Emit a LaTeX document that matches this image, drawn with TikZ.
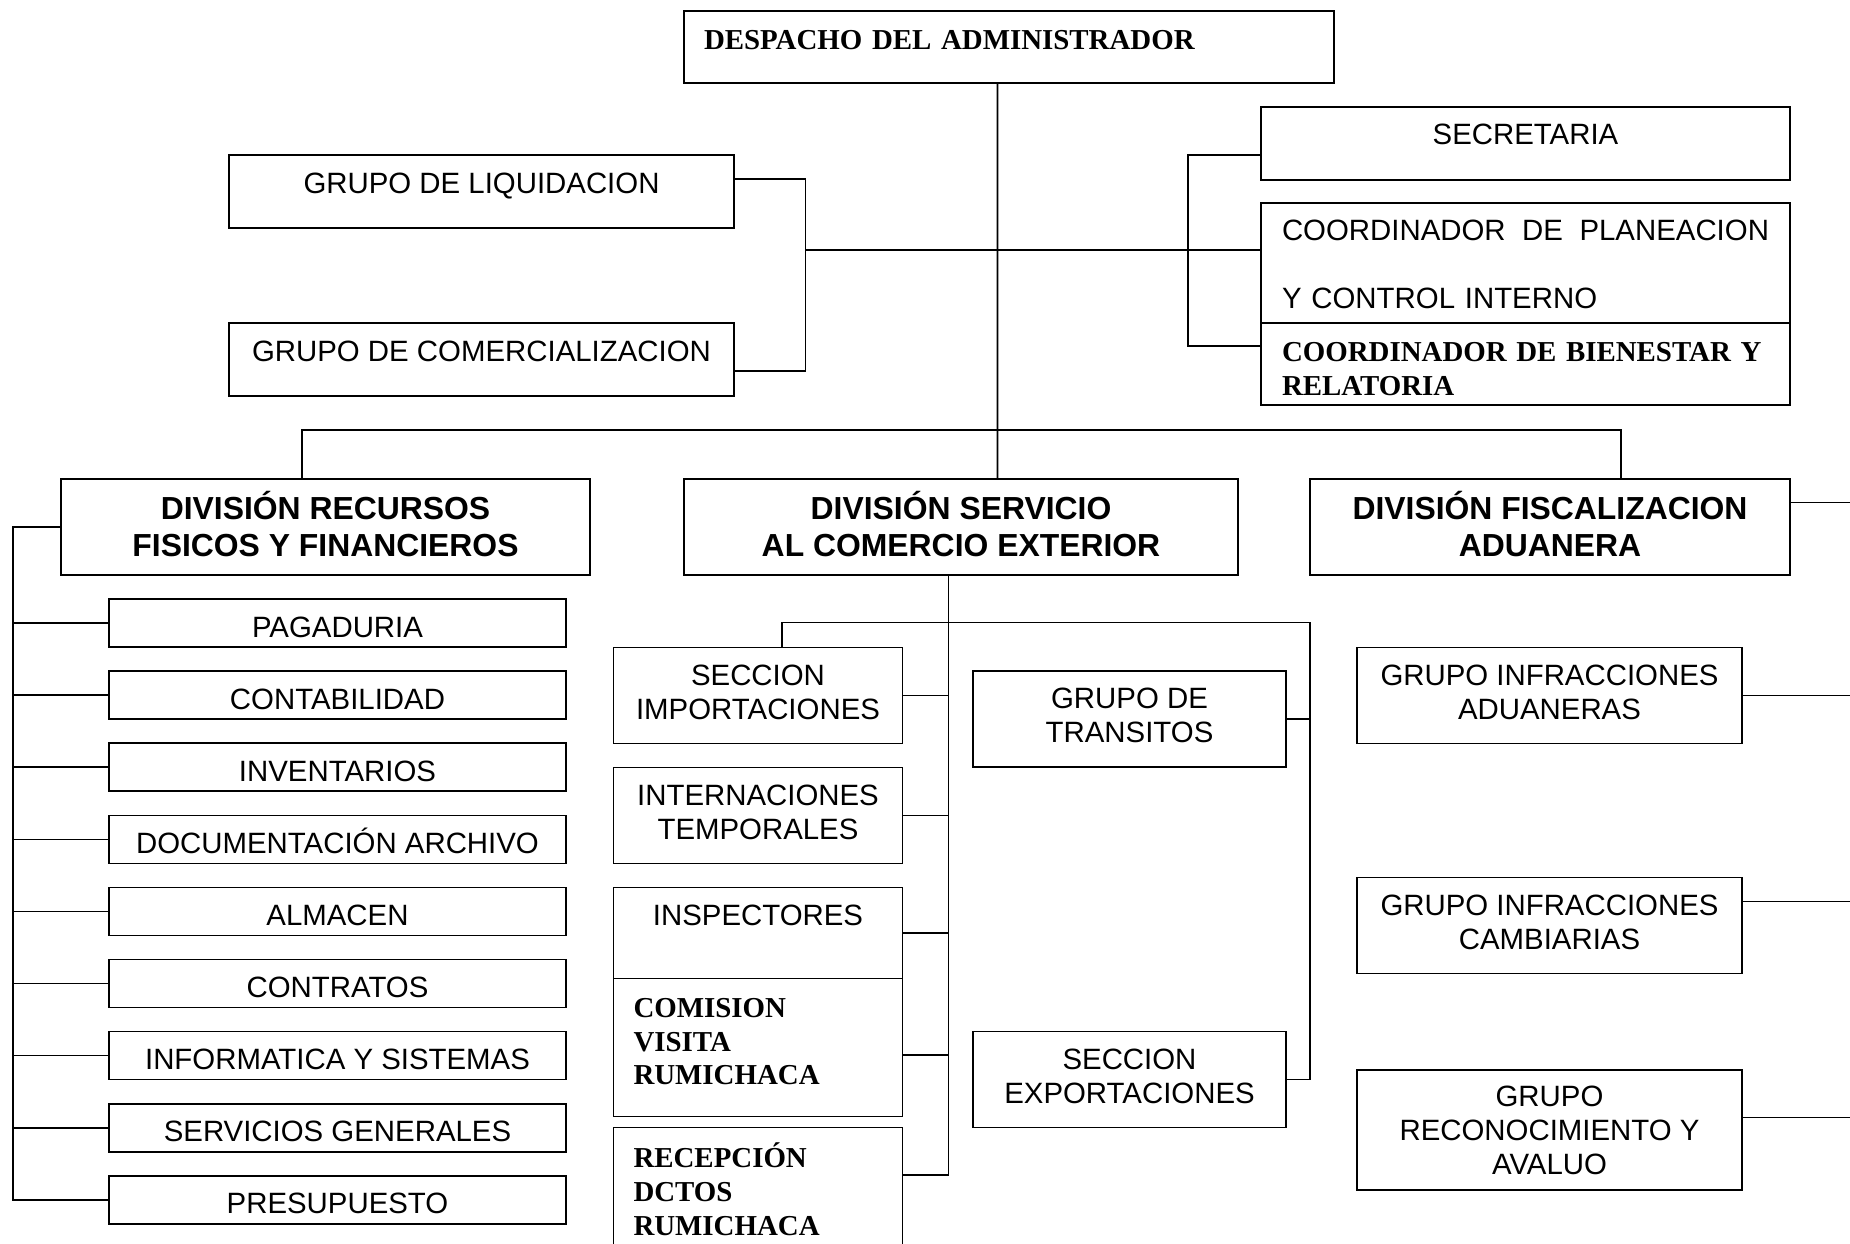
\documentclass[tikz,border=0pt]{standalone}
\usepackage{fontspec}
\setmainfont{Liberation Sans}
\newfontfamily\timesfont{Liberation Serif}
\usetikzlibrary{positioning}
\newcommand{\lowstrut}[1]{\rule[-#1]{0pt}{#1}}
\newcommand{\highstrut}[1]{\rule{0pt}{#1}}

\begin{document}
\begin{tikzpicture}[x=1bp, y=-1bp, line width=1.6bp,
  box/.style={draw, line width=1.6bp, fill=white, inner sep=0pt, align=center},
  unit/.style={box, font=\fontsize{29.5}{34}\selectfont},
  capline/.style={text height=21bp, text depth=#1}, capline/.default=0bp,
  item/.style={unit, text height=28bp, text depth=0bp, minimum width=457bp, minimum height=48bp},
  head/.style={box, font=\fontsize{32}{37}\selectfont\bfseries},
  serifbox/.style={box, align=left, font=\timesfont\bfseries\fontsize{29}{34}\selectfont}]
\useasboundingbox (0,0) rectangle (1850,1243);
\node[serifbox, minimum width=650bp, minimum height=72bp, text width=610bp, text height=20bp, text depth=16bp] (desp) at (1009,47) {DESPACHO DEL ADMINISTRADOR};
\node[unit, capline=18bp, minimum width=505bp, minimum height=73bp] (liq) at (481.5,191.5) {GRUPO DE LIQUIDACION};
\node[unit, capline=18bp, minimum width=505bp, minimum height=73bp] (com) at (481.5,359.5) {GRUPO DE COMERCIALIZACION};
\node[unit, capline=20bp, minimum width=529bp, minimum height=73bp] (sec) at (1525.5,143.5) {SECRETARIA};
\node[unit, align=left, minimum width=529bp, minimum height=120bp, text width=487bp] (plan) at (1525.5,263) {\highstrut{24bp}\makebox[487bp]{COORDINADOR\hfill DE\hfill PLANEACION}\\[34bp]Y CONTROL INTERNO};
\node[serifbox, minimum width=529bp, minimum height=82bp, text width=487bp] (bien) at (1525.5,364) {\highstrut{29bp}COORDINADOR DE BIENESTAR Y\\RELATORIA};
% divisiones
\node[head, minimum width=529bp, minimum height=96bp] (divrf) at (325.5,527) {DIVISIÓN RECURSOS\\FISICOS Y FINANCIEROS\lowstrut{6bp}};
\node[head, minimum width=554bp, minimum height=96bp] (divsc) at (961,527) {DIVISIÓN SERVICIO\\AL COMERCIO EXTERIOR\lowstrut{6bp}};
\node[head, minimum width=480bp, minimum height=96bp] (divfa) at (1550,527) {DIVISIÓN FISCALIZACION\\ADUANERA\lowstrut{6bp}};
% recursos fisicos
\node[item] (pag) at (337.5,623) {PAGADURIA};
\node[item, below=22.5bp of pag] (cont) {CONTABILIDAD};
\node[item, below=22.5bp of cont] (inv) {INVENTARIOS};
\node[item, below=22.5bp of inv] (doc) {DOCUMENTACIÓN ARCHIVO};
\node[item, below=22.5bp of doc] (alm) {ALMACEN};
\node[item, below=22.5bp of alm] (ctr) {CONTRATOS};
\node[item, below=22.5bp of ctr] (infs) {INFORMATICA Y SISTEMAS};
\node[item, below=22.5bp of infs] (sgen) {SERVICIOS GENERALES};
\node[item, below=22.5bp of sgen] (pres) {PRESUPUESTO};
% comercio exterior
\node[unit, minimum width=289bp, minimum height=96bp] (imp) at (758,695.5) {SECCION\\IMPORTACIONES\lowstrut{7bp}};
\node[unit, minimum width=289bp, minimum height=96bp] (intl) at (758,815.5) {INTERNACIONES\\TEMPORALES\lowstrut{7bp}};
\node[unit, capline=36bp, minimum width=289bp, minimum height=91bp] (insp) at (758,933) {INSPECTORES};
\node[serifbox, minimum width=289bp, minimum height=138bp, text width=249bp] (comi) at (758,1047.5) {COMISION\\VISITA\\RUMICHACA\lowstrut{12bp}};
\node[serifbox, minimum width=289bp, minimum height=123bp, text width=249bp] (recep) at (758,1189) {RECEPCIÓN\\DCTOS\\RUMICHACA};
\node[unit, minimum width=313bp, minimum height=96.5bp] (tra) at (1129.5,719) {GRUPO DE\\TRANSITOS\lowstrut{7bp}};
\node[unit, minimum width=313bp, minimum height=96bp] (exp) at (1129.5,1079.5) {SECCION\\EXPORTACIONES\lowstrut{6bp}};
% fiscalizacion
\node[unit, minimum width=385bp, minimum height=96bp] (ina) at (1549.5,695.5) {GRUPO INFRACCIONES\\ADUANERAS\lowstrut{7bp}};
\node[unit, minimum width=385bp, minimum height=96bp] (inc) at (1549.5,925.5) {GRUPO INFRACCIONES\\CAMBIARIAS\lowstrut{7bp}};
\node[unit, minimum width=385bp, minimum height=120bp] (rec) at (1549.5,1130) {GRUPO\\RECONOCIMIENTO Y\\AVALUO};
% lineas del despacho
\draw ([yshift=12.5bp]liq.east) -- ++(70.5,0) |- ([yshift=-11.5bp]com.east);
\coordinate (lbus) at (805,250);
\draw (lbus) -- ([yshift=13bp]plan.west);
\draw ([yshift=-11.5bp]sec.west) -- ++(-72,0) |- ([yshift=18bp]bien.west);
\draw ([xshift=-11.5bp]desp.south) -- ([xshift=36.5bp]divsc.north);
\draw ([xshift=-23.5bp]divrf.north) -- ++(0,-48) -| ([xshift=71bp]divfa.north);
% recursos
\coordinate (rfbus) at (13,527);
\draw (divrf.west) -- (rfbus) |- (pres.west);
\draw (pag.west) -- (pag.west -| rfbus);
\draw (cont.west) -- (cont.west -| rfbus);
\draw (inv.west) -- (inv.west -| rfbus);
\draw (doc.west) -- (doc.west -| rfbus);
\draw (alm.west) -- (alm.west -| rfbus);
\draw (ctr.west) -- (ctr.west -| rfbus);
\draw (infs.west) -- (infs.west -| rfbus);
\draw (sgen.west) -- (sgen.west -| rfbus);
% servicio
\coordinate (scbus) at ([xshift=-12.5bp]divsc.south);
\path ([yshift=-7.5bp]comi.east) coordinate (comiout);
\draw (scbus) |- ([yshift=14bp]recep.east);
\draw (imp.east) -- (imp.east -| scbus);
\draw (intl.east) -- (intl.east -| scbus);
\draw (insp.east) -- (insp.east -| scbus);
\draw (comiout) -- (comiout -| scbus);
\coordinate (xbus) at (1310,622.5);
\draw ([xshift=24bp]imp.north) |- (xbus) |- (exp.east);
\draw (tra.east) -- (tra.east -| xbus);
% fiscalizacion
\draw ([yshift=24.5bp]divfa.east) -- ++(70,0);
\draw (ina.east) -- ++(120,0);
\draw ([yshift=24bp]inc.east) -- ++(120,0);
\draw ([yshift=12.5bp]rec.east) -- ++(120,0);
\end{tikzpicture}
\end{document}
